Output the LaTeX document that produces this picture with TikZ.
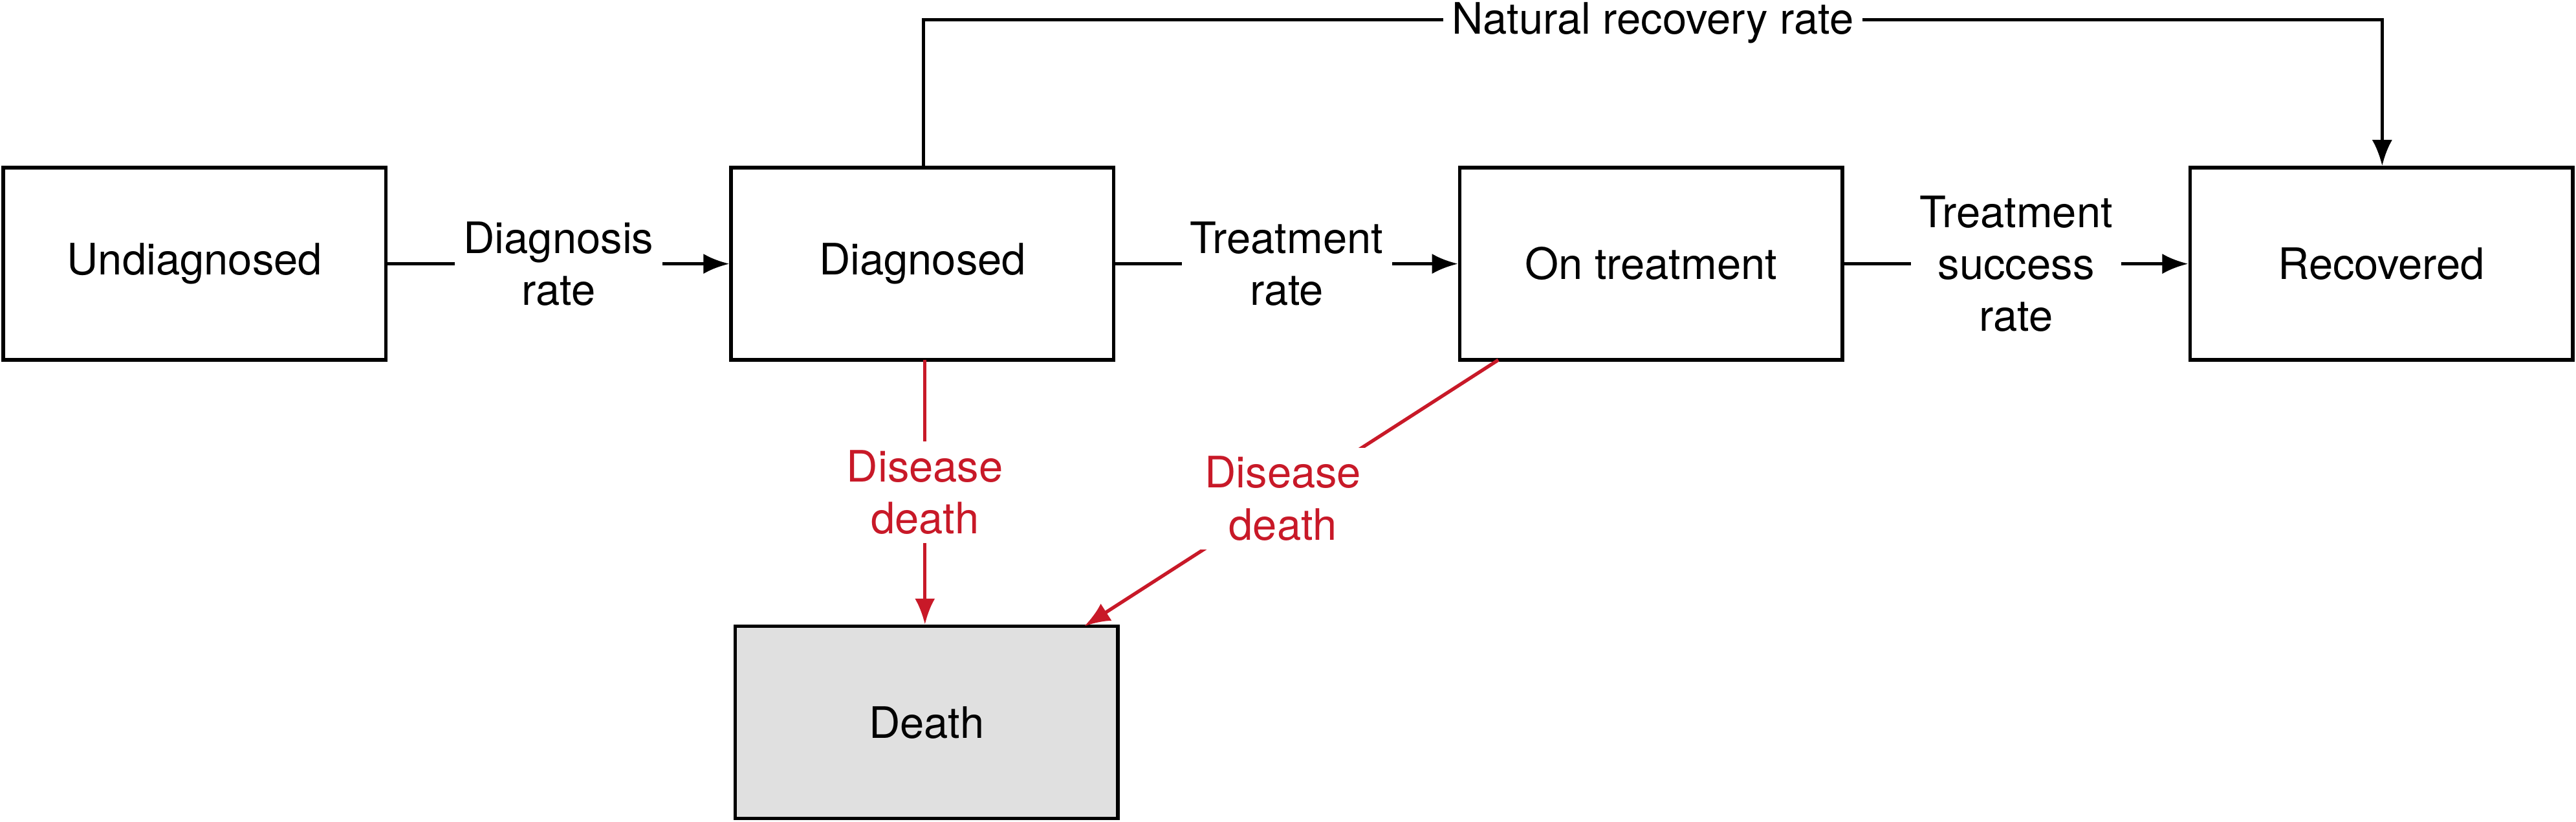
\documentclass[tikz,border=0pt]{standalone}
\usepackage{fontspec}
\setmainfont{TeX Gyre Heros}
\usetikzlibrary{arrows.meta}
\definecolor{dred}{RGB}{200,25,40}
\begin{document}
\begin{tikzpicture}[x=0.02cm,y=-0.02cm,
  box/.style={draw,line width=1.2pt,minimum width=4.66cm,minimum height=2.34cm,font=\fontsize{15}{18}\selectfont},
  lab/.style={fill=white,align=center,font=\fontsize{15}{18}\selectfont,inner sep=3pt},
  arr/.style={line width=1.2pt,-{Latex[length=9pt,width=7pt]}}]
\useasboundingbox (0,0) rectangle (1568,500);
\node[box] (u) at (118.5,160.5) {Undiagnosed};
\node[box] (d) at (561.5,160.5) {Diagnosed};
\node[box] (t) at (1005,160.5) {On treatment};
\node[box] (r) at (1449.5,160.5) {Recovered};
\node[box,fill={rgb,255:red,224;green,224;blue,224}] (x) at (564,439.5) {Death};
\draw[arr] (u) -- node[lab]{Diagnosis\\rate} (d);
\draw[arr] (d) -- node[lab]{Treatment\\rate} (t);
\draw[arr] (t) -- node[lab]{Treatment\\success\\rate} (r);
\coordinate (c1) at (562,12);
\coordinate (c2) at (1450,12);
\draw[arr] (d.north -| c1) -- (c1) -- node[lab,pos=0.5,inner ysep=0pt,yshift=-1pt]{Natural recovery rate} (c2) -- (r.north -| c2);
\coordinate (d0) at (563,219);
\coordinate (t0) at (912,219);
\coordinate (x0) at (660,381);
\draw[arr,dred] (d0) -- node[lab,text=dred]{Disease\\death} (x.north -| d0);
\draw[arr,dred] (t0) -- node[lab,text=dred,pos=0.52]{Disease\\death} (x0);
\end{tikzpicture}
\end{document}
